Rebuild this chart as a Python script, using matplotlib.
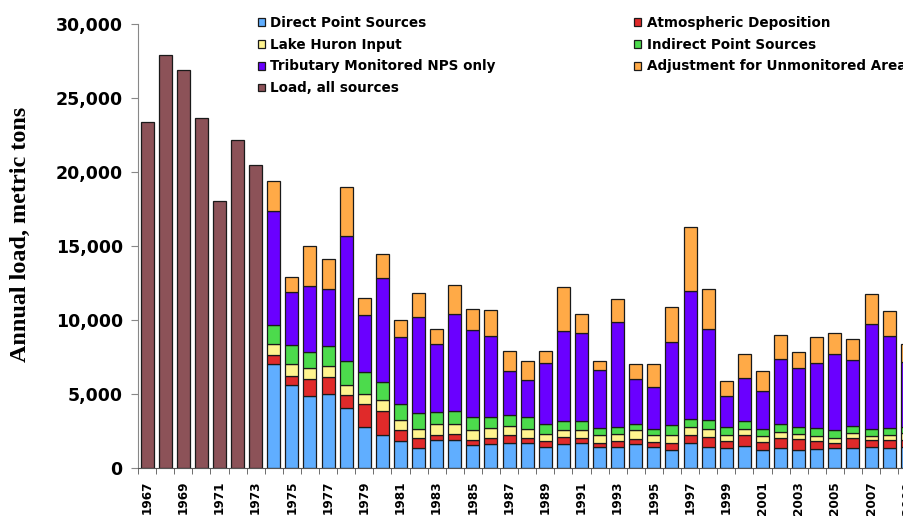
import numpy as np
import matplotlib
matplotlib.use('Agg')
import matplotlib.pyplot as plt
from matplotlib.ticker import FuncFormatter

# total load before source breakdown is available
early_years = [1967, 1968, 1969, 1970, 1971, 1972, 1973]
load_all = [23400, 27900, 26900, 23650, 18050, 22200, 20450]

# source breakdown, 1974-2009 (metric tons)
years = list(range(1974, 2010))
direct = [7050, 5640, 4870, 4990, 4090, 2790, 2270, 1840, 1370, 1890,
          1930, 1600, 1660, 1730, 1730, 1440, 1620, 1730, 1440, 1440,
          1620, 1440, 1260, 1710, 1440, 1370, 1480, 1260, 1370, 1210,
          1330, 1370, 1390, 1440, 1390, 1440]
atmos = [610, 580, 1130, 1170, 880, 1530, 1570, 720, 680, 380,
         400, 340, 400, 490, 340, 380, 490, 340, 290, 400,
         380, 340, 470, 520, 670, 470, 740, 520, 680, 760,
         510, 340, 630, 450, 540, 490]
huron = [740, 830, 760, 720, 680, 720, 790, 720, 630, 700,
         680, 630, 650, 630, 610, 520, 450, 490, 490, 490,
         560, 490, 540, 560, 520, 380, 410, 400, 400, 360,
         340, 340, 360, 320, 320, 450]
indirect = [1280, 1280, 1120, 1370, 1570, 1460, 1190, 1080, 1080, 830,
            850, 900, 740, 760, 790, 630, 610, 610, 490, 450,
            450, 400, 670, 540, 610, 560, 560, 470, 560, 450,
            540, 520, 470, 470, 470, 400]
tributary = [7700, 3600, 4400, 3870, 8450, 3860, 7010, 4490, 6450, 4560,
             6560, 5890, 5500, 2940, 2470, 4160, 6130, 5970, 3930, 7120,
             3030, 2810, 5570, 8610, 6180, 2070, 2900, 2540, 4340, 4000,
             4400, 5120, 4470, 7030, 6180, 4430]
adjust = [2020, 970, 2700, 1980, 3300, 1150, 1640, 1170, 1660, 1060,
          1980, 1410, 1730, 1350, 1300, 790, 2920, 1280, 630, 1530,
          1010, 1570, 2400, 4340, 2700, 1030, 1600, 1370, 1620, 1060,
          1730, 1460, 1420, 2070, 1690, 1190]

labels = ['Direct Point Sources', 'Atmospheric Deposition', 'Lake Huron Input',
          'Indirect Point Sources', 'Tributary Monitored NPS only',
          'Adjustment for Unmonitored Area']
colors = ['#60AEFF', '#E02A2A', '#FFF48F', '#4CDB4C', '#6A00FF', '#FFAA47']
brown = '#8C5258'

fig = plt.figure(figsize=(9.04, 5.19), dpi=100)
W, H = 904.0, 519.0
pitch = 18.1
x0 = 138.0
ax = fig.add_axes([x0 / W, (H - 468.3) / H, 44 * pitch / W, (468.3 - 24) / H])

bw = 0.72
ec = '#1a1a1a'
lw = 0.9

handles = {}
b = ax.bar(early_years, load_all, width=bw, color=brown, edgecolor=ec, linewidth=lw)
handles['Load, all sources'] = b

bottom = np.zeros(len(years))
for vals, lab, col in zip([direct, atmos, huron, indirect, tributary, adjust], labels, colors):
    b = ax.bar(years, vals, width=bw, bottom=bottom, color=col, edgecolor=ec, linewidth=lw)
    handles[lab] = b
    bottom += np.array(vals)

ax.set_xlim(1966.5, 2010.5)
ax.set_ylim(0, 30000)

ax.spines['top'].set_visible(False)
ax.spines['right'].set_visible(False)
ax.spines['left'].set_color('#888888')
ax.spines['bottom'].set_color('#555555')

ax.set_yticks(range(0, 30001, 5000))
ax.yaxis.set_major_formatter(FuncFormatter(lambda v, p: '{:,}'.format(int(v))))
ax.tick_params(axis='y', length=5, color='#888888', pad=6, labelsize=12.5)
for t in ax.get_yticklabels():
    t.set_fontweight('bold')

ax.set_xticks(list(range(1967, 2010, 2)))
ax.set_xticklabels([str(y) for y in range(1967, 2010, 2)], rotation=90,
                   fontsize=8.7, fontweight='bold')
ax.set_xticks(np.arange(1966.5, 2010.6, 1), minor=True)
ax.tick_params(axis='x', which='major', length=0, pad=9)
ax.tick_params(axis='x', which='minor', length=4, color='#555555')

fig.text(20 / W, 1 - 234.5 / H, 'Annual load, metric tons', rotation=90,
         ha='center', va='center', family='Liberation Serif',
         fontweight='bold', fontsize=17.4)

order = ['Direct Point Sources', 'Lake Huron Input', 'Tributary Monitored NPS only',
         'Load, all sources', 'Atmospheric Deposition', 'Indirect Point Sources',
         'Adjustment for Unmonitored Area']
leg = fig.legend([handles[k] for k in order], order, ncol=2, loc='upper left',
                 bbox_to_anchor=(251 / W, 1 - 9 / H), frameon=False,
                 prop={'weight': 'bold', 'size': 9.75}, borderpad=0,
                 handlelength=0.52, handleheight=0.52, handletextpad=0.42,
                 labelspacing=0.58, columnspacing=10.2)

fig.savefig('out.png', dpi=100)
